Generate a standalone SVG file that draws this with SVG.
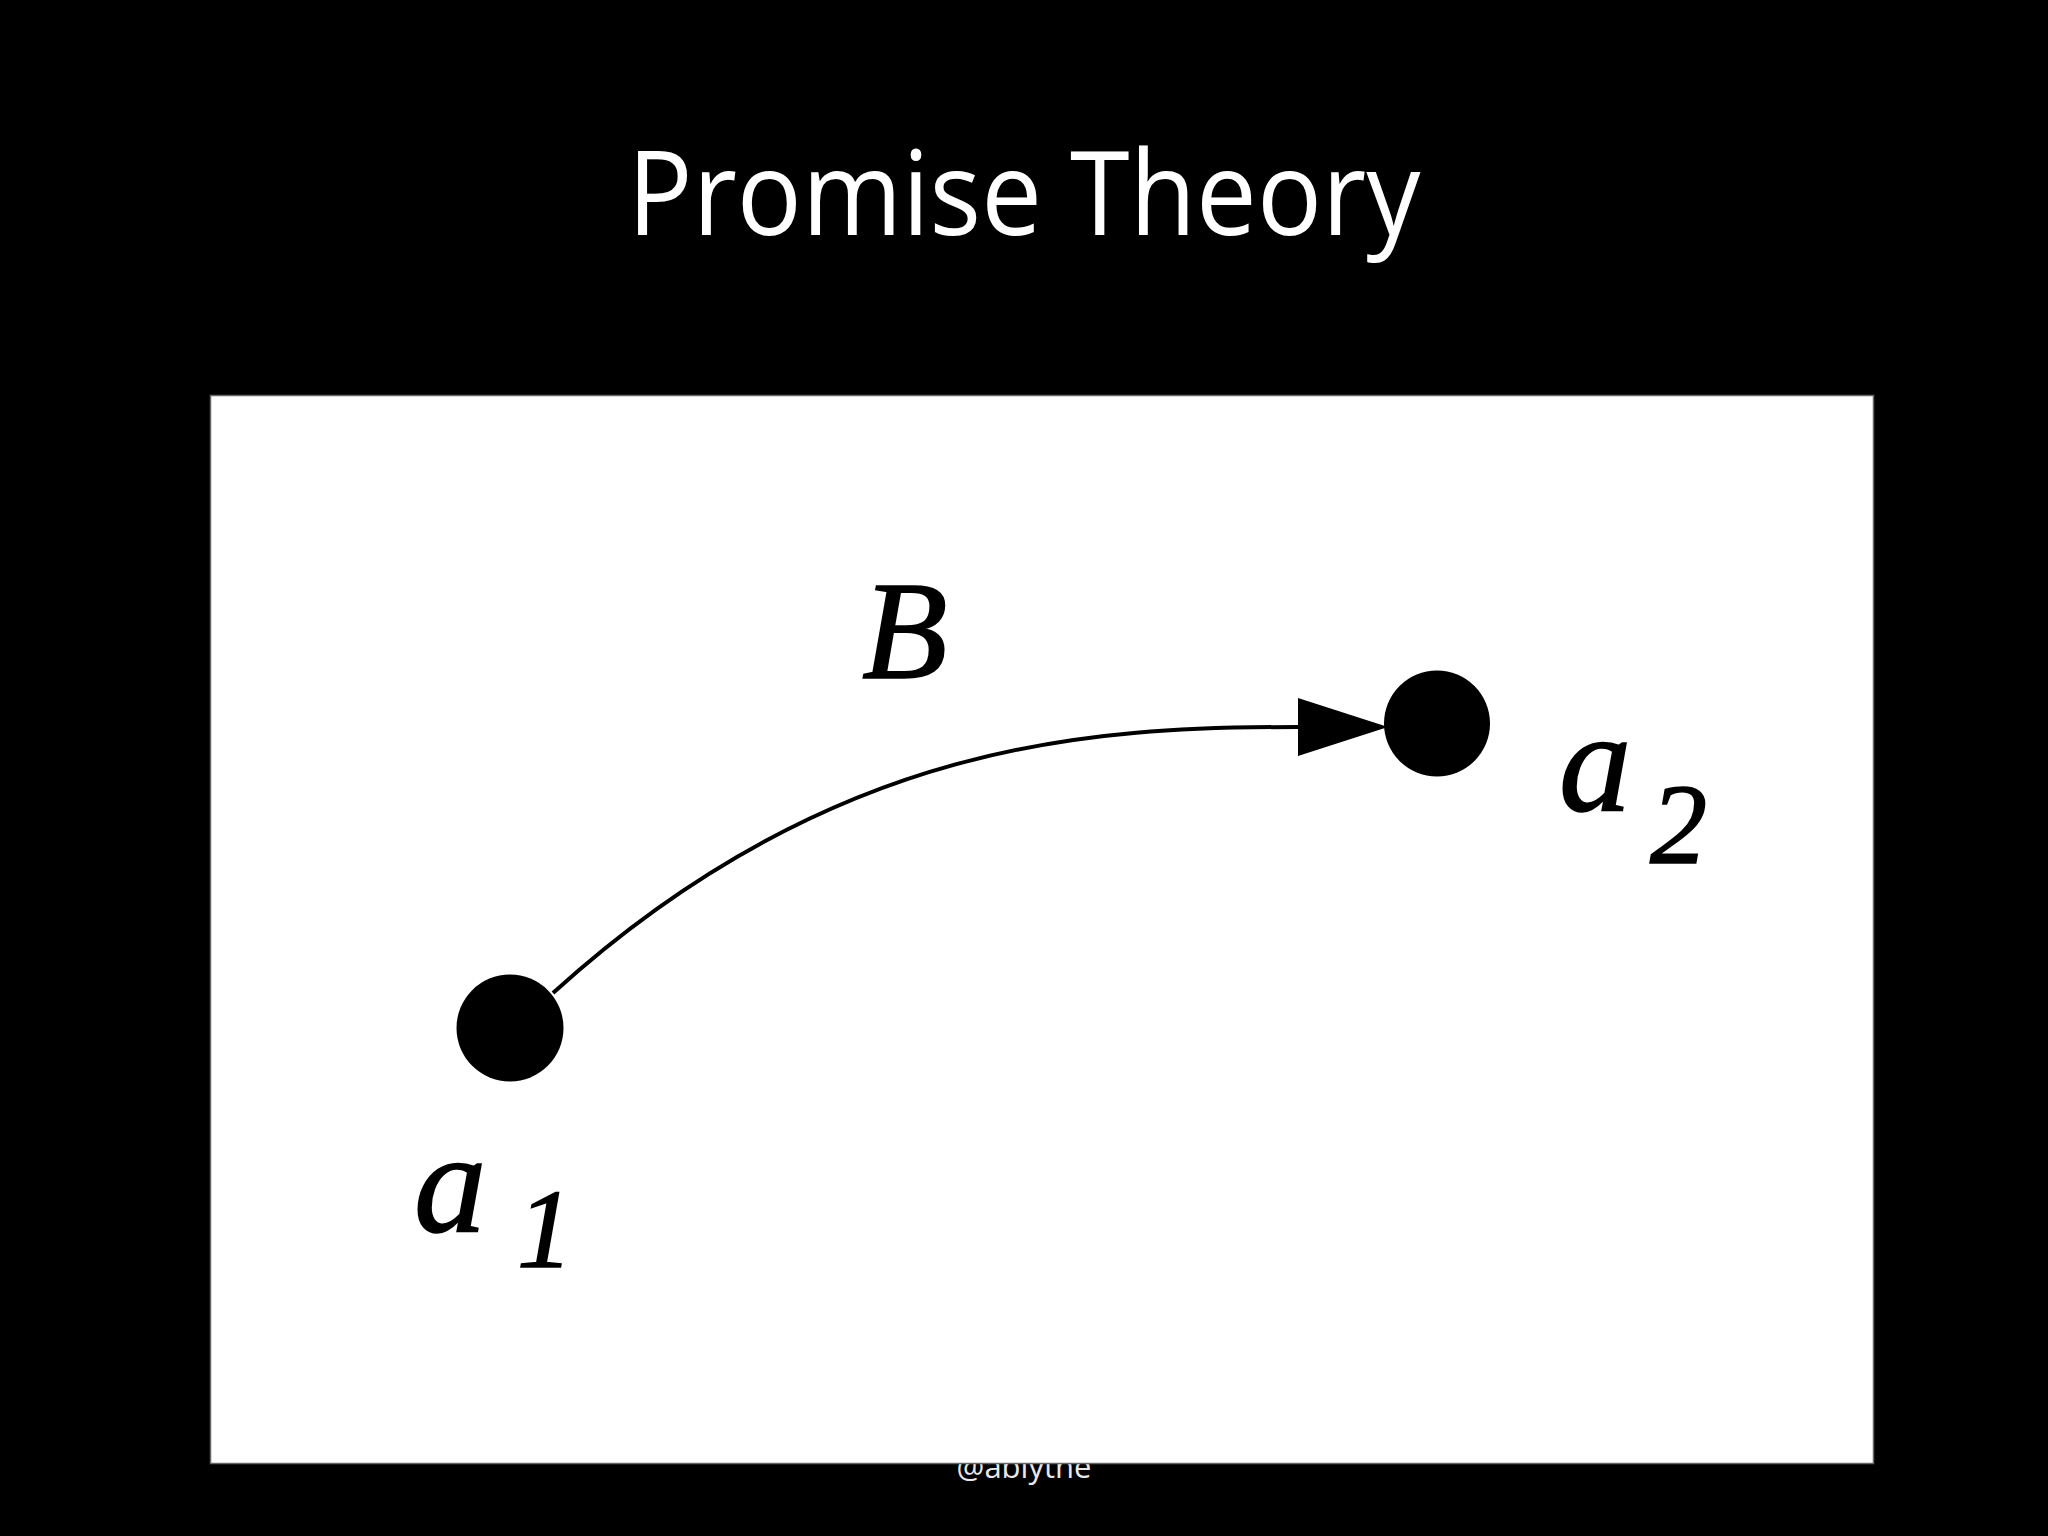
<svg xmlns="http://www.w3.org/2000/svg" width="2048" height="1536" viewBox="0 0 2048 1536">
  <style>
    .title { font-family: "Open Sans", "Liberation Sans", sans-serif; fill: #ffffff; }
    .wm { font-family: "Open Sans", "Liberation Sans", sans-serif; fill: #e8e8e8; }
    .math { font-family: "Liberation Serif", "DejaVu Serif", serif; font-style: italic; fill: #000; stroke: #000; stroke-width: 1.6; }
    .node { fill: #000; }
    .edge { fill: none; stroke: #000; stroke-width: 4; }
  </style>
  <defs>
    <marker id="arrow" markerUnits="userSpaceOnUse" viewBox="0 0 90 58" refX="0" refY="29" markerWidth="90" markerHeight="58" orient="auto">
      <path d="M0,0 L90,29 L0,58 Z" fill="#000"/>
    </marker>
  </defs>
  <rect x="0" y="0" width="2048" height="1536" fill="#000"/>
  <text class="title" x="1024" y="235" font-size="118" text-anchor="middle" textLength="793" lengthAdjust="spacingAndGlyphs">Promise Theory</text>
  <text class="wm" x="1024" y="1478" font-size="31" text-anchor="middle">@ablythe</text>
  <rect x="210.5" y="395.5" width="1663" height="1068" fill="#fff" stroke="#666" stroke-width="1.5"/>
  <g id="connectors">
    <path class="edge" d="M553,993 C834,738 1097,727 1298,727" marker-end="url(#arrow)"/>
    <text class="math" x="862" y="678" font-size="140">B</text>
  </g>
  <g id="node-a1">
    <circle class="node" cx="510" cy="1028" r="53.5"/>
    <text class="math" x="414" y="1232" font-size="145">a</text>
    <text class="math" x="517" y="1267" font-size="112">1</text>
  </g>
  <g id="node-a2">
    <circle class="node" cx="1437" cy="723.5" r="53"/>
    <text class="math" x="1559" y="811" font-size="145">a</text>
    <text class="math" x="1650" y="863" font-size="114">2</text>
  </g>
</svg>
